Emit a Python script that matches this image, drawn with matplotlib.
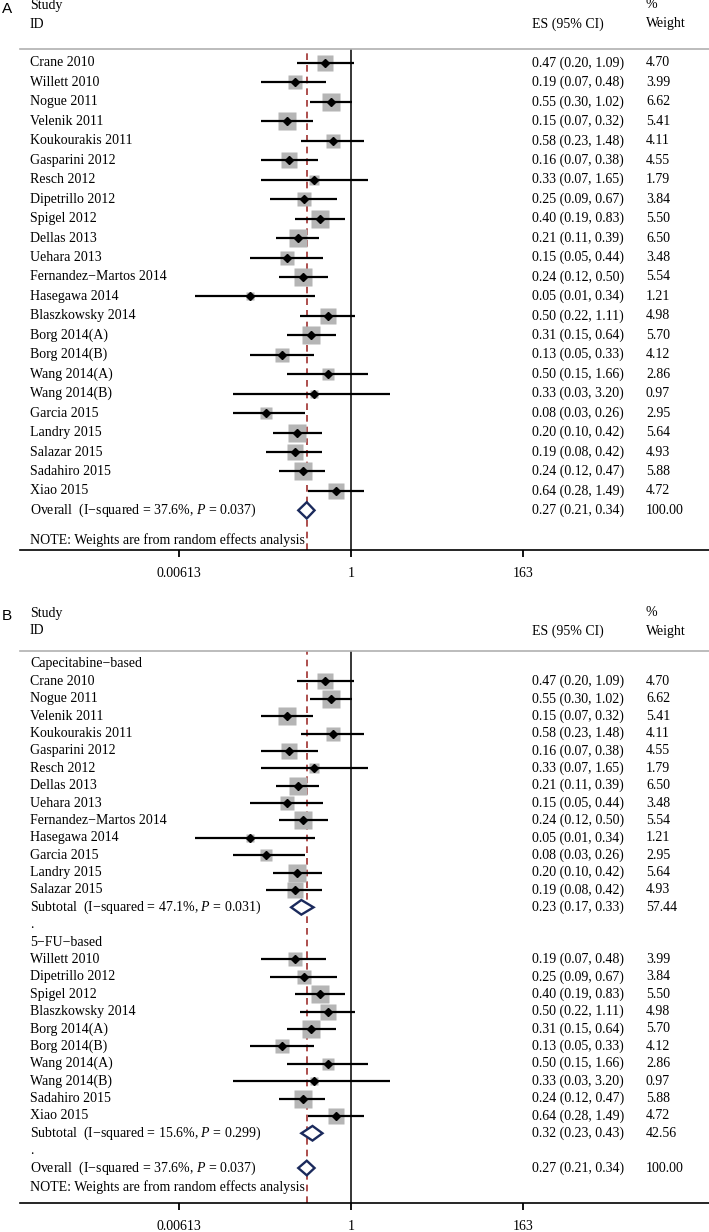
import numpy as np
import matplotlib
matplotlib.use("Agg")
import matplotlib.pyplot as plt
from matplotlib.patches import Polygon
from matplotlib.transforms import blended_transform_factory

# study-level data (same weights are shown in both panels)
studies = ["Crane 2010", "Willett 2010", "Nogue 2011", "Velenik 2011",
           "Koukourakis 2011", "Gasparini 2012", "Resch 2012",
           "Dipetrillo 2012", "Spigel 2012", "Dellas 2013", "Uehara 2013",
           "Fernandez\u2212Martos 2014", "Hasegawa 2014", "Blaszkowsky 2014",
           "Borg 2014(A)", "Borg 2014(B)", "Wang 2014(A)", "Wang 2014(B)",
           "Garcia 2015", "Landry 2015", "Salazar 2015", "Sadahiro 2015",
           "Xiao 2015"]
es = [0.47, 0.19, 0.55, 0.15, 0.58, 0.16, 0.33, 0.25, 0.40, 0.21, 0.15,
      0.24, 0.05, 0.50, 0.31, 0.13, 0.50, 0.33, 0.08, 0.20, 0.19, 0.24, 0.64]
lo = [0.20, 0.07, 0.30, 0.07, 0.23, 0.07, 0.07, 0.09, 0.19, 0.11, 0.05,
      0.12, 0.01, 0.22, 0.15, 0.05, 0.15, 0.03, 0.03, 0.10, 0.08, 0.12, 0.28]
hi = [1.09, 0.48, 1.02, 0.32, 1.48, 0.38, 1.65, 0.67, 0.83, 0.39, 0.44,
      0.50, 0.34, 1.11, 0.64, 0.33, 1.66, 3.20, 0.26, 0.42, 0.42, 0.47, 1.49]
weight = [4.70, 3.99, 6.62, 5.41, 4.11, 4.55, 1.79, 3.84, 5.50, 6.50, 3.48,
          5.54, 1.21, 4.98, 5.70, 4.12, 2.86, 0.97, 2.95, 5.64, 4.93, 5.88, 4.72]
group = ["C", "F", "C", "C", "C", "C", "C", "F", "F", "C", "C",
         "C", "C", "F", "F", "F", "F", "F", "C", "C", "C", "F", "F"]

group_names = {"C": "Capecitabine\u2212based", "F": "5\u2212FU\u2212based"}
group_order = ["C", "F"]
sub_i2 = {"C": "47.1%", "F": "15.6%"}
sub_p = {"C": "0.031", "F": "0.299"}
sub_es = {"C": 0.23, "F": 0.32}
sub_lo = {"C": 0.17, "F": 0.23}
sub_hi = {"C": 0.33, "F": 0.43}
sub_wt = {"C": 57.44, "F": 42.56}

overall_i2 = "37.6%"
overall_p = "0.037"
overall_es, overall_lo, overall_hi, overall_wt = 0.27, 0.21, 0.34, 100.00

ticks = [0.00613, 1, 163]
tick_labels = ["0.00613", "1", "163"]

plt.rcParams["font.family"] = "Liberation Serif"
plt.rcParams["mathtext.fontset"] = "custom"
plt.rcParams["mathtext.rm"] = "Liberation Serif"
plt.rcParams["mathtext.it"] = "Liberation Serif:italic"
FS = 10

W, H = 709, 1232
fig = plt.figure(figsize=(W / 100, H / 100), dpi=100)

SQ_COL = "#b5b5b5"
NAVY = "#1b2a5c"
RED = "#a0302f"


def fx(px):
    return px / W


def forest(ax, rows, top_px, first_px, step_px, axis_px, note_y, head_ys, label):
    ax.set_xscale("log")
    # 1 sits at x=351 px, 77.8 px per decade, axes spans 20..709 px
    ax.set_xlim(10 ** ((20 - 351) / 77.8), 10 ** ((W - 351) / 77.8))
    ax.set_ylim((axis_px - first_px) / step_px, -(first_px - top_px) / step_px)
    for s in ["left", "right"]:
        ax.spines[s].set_visible(False)
    ax.spines["top"].set_color("#b0b0b0")
    ax.spines["top"].set_linewidth(1.2)
    ax.spines["bottom"].set_linewidth(1.2)
    ax.set_yticks([])
    ax.set_xticks(ticks)
    ax.set_xticklabels(tick_labels, fontsize=FS)
    ax.minorticks_off()
    ax.tick_params(axis="x", direction="out", length=5, width=1.3, pad=7)
    ax.set_facecolor("white")

    tr = blended_transform_factory(fig.transFigure, ax.transData)
    ax.axvline(1, color="black", lw=1.1, zorder=1)
    ax.axvline(overall_es, color=RED, lw=1.2, dashes=(4, 3), zorder=1)

    for i, r in enumerate(rows):
        kind = r[0]
        if kind == "study":
            _, name, e, l, h, w = r
            ax.plot([e], [i], marker="s", ms=5.3 * np.sqrt(w), color=SQ_COL,
                    mec="none", zorder=2)
            ax.plot([l, h], [i, i], color="black", lw=1.6, zorder=3,
                    solid_capstyle="butt")
            ax.plot([e], [i], marker="D", ms=3.8, color="black", zorder=4)
            ax.text(fx(30), i, name, transform=tr, fontsize=FS, va="center")
            ax.text(fx(532), i, f"{e:.2f} ({l:.2f}, {h:.2f})", transform=tr,
                    fontsize=FS, va="center")
            ax.text(fx(646), i, f"{w:.2f}", transform=tr, fontsize=FS,
                    va="center")
        elif kind == "pooled":
            _, name, e, l, h, w = r
            d = 0.42
            ax.add_patch(Polygon([(l, i), (e, i - d), (h, i), (e, i + d)],
                                 closed=True, fill=True, fc="white",
                                 ec=NAVY, lw=1.7, zorder=5))
            ax.text(fx(30), i, name, transform=tr, fontsize=FS, va="center")
            ax.text(fx(532), i, f"{e:.2f} ({l:.2f}, {h:.2f})", transform=tr,
                    fontsize=FS, va="center")
            ax.text(fx(646), i, f"{w:.2f}", transform=tr, fontsize=FS,
                    va="center")
        elif kind == "label":
            ax.text(fx(30), i, r[1], transform=tr, fontsize=FS, va="center")

    ax.text(fx(30), note_y, "NOTE: Weights are from random effects analysis",
            transform=tr, fontsize=FS, va="center")
    y1, y2 = head_ys
    ax.text(fx(30), y1, "Study", transform=tr, fontsize=FS, va="center")
    ax.text(fx(30), y2, "ID", transform=tr, fontsize=FS, va="center")
    ax.text(fx(646), y1, "%", transform=tr, fontsize=FS, va="center")
    ax.text(fx(646), y2, "Weight", transform=tr, fontsize=FS, va="center")
    ax.text(fx(532), y2, "ES (95% CI)", transform=tr, fontsize=FS, va="center")
    ax.text(fx(2), y1 + 0.2, label, transform=tr, fontsize=11, va="center",
            family="Liberation Sans")


def overall_row(prefix):
    return ("pooled",
            f"{prefix}  (I\u2212squared = {overall_i2}, $P$ = {overall_p})",
            overall_es, overall_lo, overall_hi, overall_wt)


# panel A rows
rows_a = [("study", studies[k], es[k], lo[k], hi[k], weight[k])
          for k in range(len(studies))]
rows_a.append(overall_row("Overall"))

# panel B rows, grouped
rows_b = []
for g in group_order:
    rows_b.append(("label", group_names[g]))
    for k in range(len(studies)):
        if group[k] == g:
            rows_b.append(("study", studies[k], es[k], lo[k], hi[k], weight[k]))
    rows_b.append(("pooled",
                   f"Subtotal  (I\u2212squared = {sub_i2[g]}, $P$ = {sub_p[g]})",
                   sub_es[g], sub_lo[g], sub_hi[g], sub_wt[g]))
    rows_b.append(("label", "."))
rows_b.append(overall_row("Overall"))

# panel A: separator at 49 px, first row 63 px, step 19.45, axis 550 px
topA, firstA, stepA, axisA = 49, 63, 19.45, 550
axA = fig.add_axes([fx(20), 1 - axisA / H, 1 - fx(20), (axisA - topA) / H])
forest(axA, rows_a, topA, firstA, stepA, axisA,
       note_y=(540 - firstA) / stepA,
       head_ys=((5 - firstA) / stepA, (24 - firstA) / stepA), label="A")

# panel B: separator at 651 px, first row 664 px, step 17.38, axis 1203 px
topB, firstB, stepB, axisB = 651, 664, 17.38, 1203
axB = fig.add_axes([fx(20), 1 - axisB / H, 1 - fx(20), (axisB - topB) / H])
forest(axB, rows_b, topB, firstB, stepB, axisB,
       note_y=(1187 - firstB) / stepB,
       head_ys=((613 - firstB) / stepB, (631 - firstB) / stepB), label="B")

fig.savefig("out.png", dpi=100)
